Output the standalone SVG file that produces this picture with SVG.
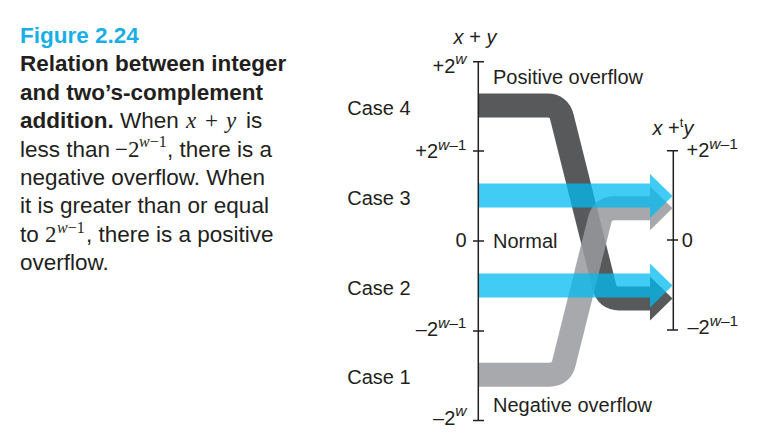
<svg xmlns="http://www.w3.org/2000/svg" width="770" height="436" viewBox="0 0 770 436">
<style>
  text { font-family: "Liberation Sans", Arial, sans-serif; fill: #231f20; }
  .body { font-size: 22.5px; }
  .b { font-weight: bold; }
  .title { font-size: 22.5px; font-weight: bold; fill: #1aaee6; }
  .m { font-family: "Liberation Serif", "Times New Roman", serif; font-size: 23px; }
  .mi { font-family: "Liberation Serif", "Times New Roman", serif; font-style: italic; font-size: 23px; }
  .ms { font-family: "Liberation Serif", "Times New Roman", serif; font-size: 16px; }
  .lab { font-size: 20px; }
  .ax { font-size: 20px; }
  .sup { font-size: 15.5px; }
  .it { font-style: italic; }
  .axis { stroke: #231f20; stroke-width: 1.5; fill: none; }
  .band { fill: none; stroke-width: 24; stroke-linejoin: round; }
</style>

<g id="caption">
  <text class="title" x="20" y="43">Figure 2.24</text>
  <text class="body b" x="20" y="71">Relation between integer</text>
  <text class="body b" x="20" y="99.5">and two’s-complement</text>
  <text class="body" x="20" y="128"><tspan class="b">addition.</tspan> When<tspan class="mi" x="186">x</tspan><tspan class="m" x="205">+</tspan><tspan class="mi" x="226">y</tspan><tspan x="246">is</tspan></text>
  <text class="body" x="20" y="156.5">less than<tspan class="m" x="115">−2</tspan><tspan class="ms" x="139" y="147"><tspan font-style="italic">w</tspan>−1</tspan><tspan x="167" y="156.5">, there is a</tspan></text>
  <text class="body" x="20" y="185">negative overflow. When</text>
  <text class="body" x="20" y="213.3">it is greater than or equal</text>
  <text class="body" x="20" y="241.7">to<tspan class="m" x="45">2</tspan><tspan class="ms" x="57" y="232.5"><tspan font-style="italic">w</tspan>−1</tspan><tspan x="86" y="241.7">, there is a positive</tspan></text>
  <text class="body" x="20" y="270">overflow.</text>
</g>

<g id="connectors">
  <g id="case4-band">
    <path class="band" stroke="#58595b" d="M478,105.5 H547 Q559,105.5 561.9,117.1 L604.4,286.9 Q607.3,298.5 619.3,298.5 H650"/>
    <polygon fill="#58595b" points="650,276.5 672.5,298.5 650,320.5"/>
  </g>
  <g id="case1-band" opacity="0.85">
    <path class="band" stroke="#989a9d" d="M478,374.7 H549 Q561,374.7 563.9,363.1 L599.7,219.9 Q602.6,208.3 614.6,208.3 H650"/>
    <polygon fill="#989a9d" points="650,186.3 672.5,208.3 650,230.3"/>
  </g>
  <g id="case3-band" opacity="0.75">
    <path fill="#00bbf0" d="M478,183.5 H650 V174 L672.5,196 L650,218 V207.5 H478 Z"/>
  </g>
  <g id="case2-band" opacity="0.75">
    <path fill="#00bbf0" d="M478,273.5 H650 V263.5 L672.5,285.5 L650,307.5 V297.5 H478 Z"/>
  </g>
</g>

<g id="axis-xy">
  <path class="axis" d="M478.3,61.7 V420.5 M473,61.7 H484 M473,151 H484 M473,241 H484 M473,331 H484 M473,420.5 H484"/>
  <text class="ax" x="475" y="44" text-anchor="middle"><tspan class="it">x</tspan> + <tspan class="it">y</tspan></text>
  <text class="ax" x="466.5" y="72.5" text-anchor="end">+2<tspan class="sup it" dy="-9">w</tspan></text>
  <text class="ax" x="466.5" y="158.3" text-anchor="end">+2<tspan class="sup" dy="-8"><tspan class="it">w</tspan>–1</tspan></text>
  <text class="ax" x="466.5" y="247" text-anchor="end">0</text>
  <text class="ax" x="466.5" y="335.5" text-anchor="end">–2<tspan class="sup" dy="-8"><tspan class="it">w</tspan>–1</tspan></text>
  <text class="ax" x="466.5" y="425" text-anchor="end">–2<tspan class="sup it" dy="-9">w</tspan></text>
</g>

<g id="axis-xty">
  <path class="axis" d="M673.3,150.7 V330 M667,150.7 H678 M667,240 H678 M667,330 H678"/>
  <text class="ax" x="652.5" y="135"><tspan class="it">x</tspan> +<tspan font-size="13" dy="-8">t</tspan><tspan class="it" dy="8">y</tspan></text>
  <text class="ax" x="686.5" y="157.3">+2<tspan class="sup" dy="-8"><tspan class="it">w</tspan>–1</tspan></text>
  <text class="ax" x="681.7" y="246.7">0</text>
  <text class="ax" x="687.5" y="334">–2<tspan class="sup" dy="-8"><tspan class="it">w</tspan>–1</tspan></text>
</g>

<g id="case-labels">
  <text id="case4" class="lab" x="347.3" y="115">Case 4</text>
  <text id="case3" class="lab" x="347.3" y="205">Case 3</text>
  <text id="case2" class="lab" x="347.3" y="295">Case 2</text>
  <text id="case1" class="lab" x="347.3" y="384">Case 1</text>
</g>

<g id="region-labels">
  <text class="lab" x="493" y="84" font-size="19.7">Positive overflow</text>
  <text class="lab" x="493" y="248.3">Normal</text>
  <text class="lab" x="493" y="411.5">Negative overflow</text>
</g>
</svg>
